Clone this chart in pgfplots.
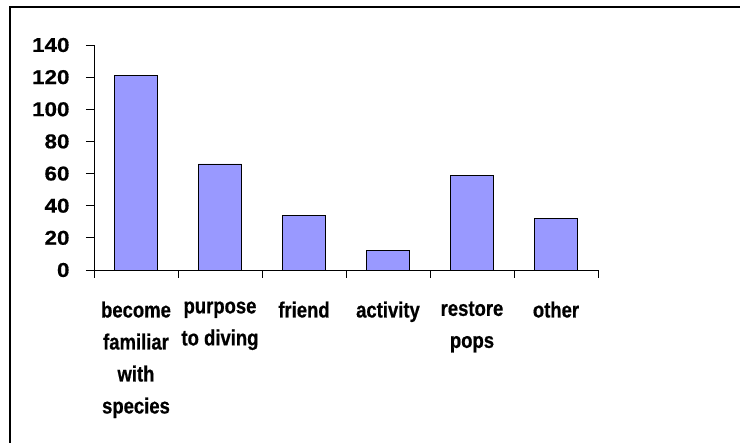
\documentclass[border=0pt]{standalone}
\usepackage{pgfplots}
\pgfplotsset{compat=1.18}
\usepackage{fontspec}
\setmainfont{Liberation Sans}
\newfontfamily\xlabfont[FakeStretch=0.84,FakeBold=0.6]{Liberation Sans}
\newfontfamily\ylabfont[FakeStretch=1.12,FakeBold=0.6]{Liberation Sans}
\definecolor{barblue}{HTML}{9999FF}
\begin{document}
\begin{tikzpicture}[x=1pt,y=1pt]
\path[use as bounding box] (0,0) rectangle (740,443);
\draw[line width=2pt] (10,0) -- (10,436) -- (740,436);
\begin{axis}[
  at={(94pt,173pt)}, anchor=south west,
  scale only axis, width=504pt, height=225pt,
  xmin=-0.5, xmax=5.5, ymin=0, ymax=140,
  axis lines*=left,
  axis line style={line width=0.8pt, black},
  ytick={0,20,...,140},
  xtick={0,...,5},
  xticklabels={{become\\familiar\\with\\species},{purpose\\to diving},{friend},{activity},{restore\\pops},{other}},
  major x tick style={draw=none},
  minor xtick={-0.5,0.5,...,5.5},
  tick align=outside, major tick length=8pt, minor tick length=8pt,
  tick style={black, line width=0.8pt},
  /pgf/number format/assume math mode=true,
  x tick label style={align=center, anchor=north, font=\xlabfont\fontsize{22}{32}\selectfont\bfseries, yshift=-20pt},
  y tick label style={font=\ylabfont\fontsize{20}{24}\selectfont\bfseries, xshift=-13pt},
  clip=false,
]
\addplot[ybar, bar width=43pt, fill=barblue, draw=black, line width=0.8pt]
  coordinates {(0,121)(1,66)(2,34)(3,12)(4,59)(5,32)};
\end{axis}
\end{tikzpicture}
\end{document}
